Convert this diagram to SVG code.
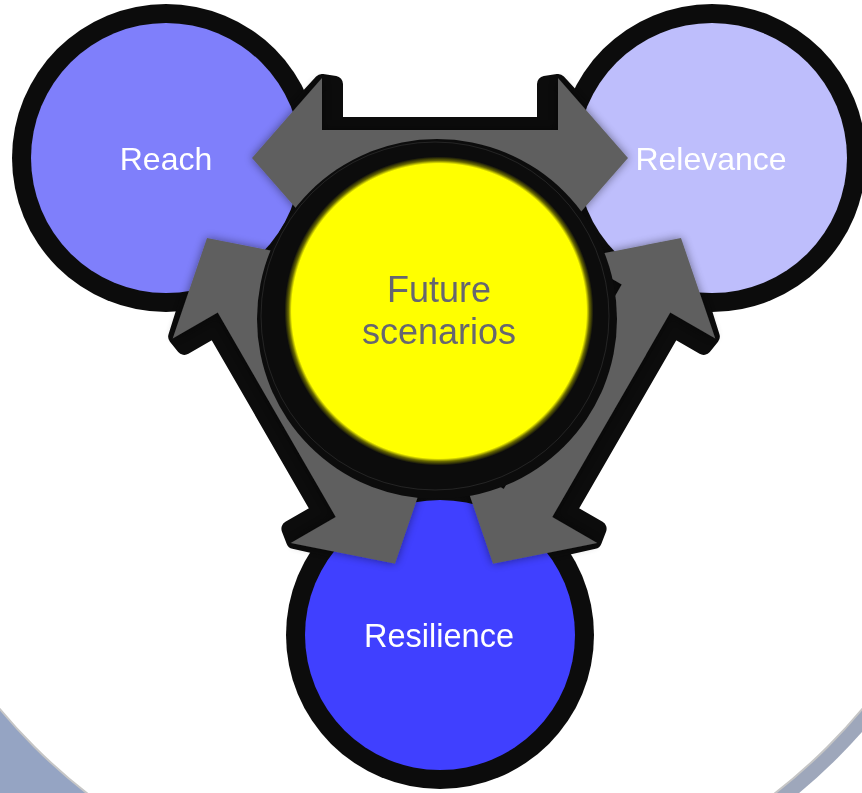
<svg xmlns="http://www.w3.org/2000/svg" width="862" height="793" viewBox="0 0 862 793">
  <defs>
    <style>
      .edge { fill: #0c0c0c; }
      .arrow-edge { fill: #0c0c0c; stroke: #0c0c0c; stroke-width: 16; stroke-linejoin: round; }
      .arrow { fill: #5f5f5f; }
      .label { font-family: "Liberation Sans", Arial, sans-serif; font-size: 32px; fill: #ffffff; text-anchor: middle; }
      .core-label { font-family: "Liberation Sans", Arial, sans-serif; font-size: 36px; fill: #666670; text-anchor: middle; }
    </style>
    <filter id="arrowShadow" x="-20%" y="-20%" width="140%" height="140%">
      <feGaussianBlur in="SourceAlpha" stdDeviation="5"/>
      <feComponentTransfer><feFuncA type="linear" slope="0.45"/></feComponentTransfer>
      <feMerge><feMergeNode/><feMergeNode in="SourceGraphic"/></feMerge>
    </filter>
    <radialGradient id="coreGlow" cx="439" cy="311" r="156" gradientUnits="userSpaceOnUse">
      <stop offset="0.945" stop-color="#ffff00"/>
      <stop offset="0.965" stop-color="#6a6a00"/>
      <stop offset="0.99" stop-color="#0c0c0c"/>
    </radialGradient>
    <clipPath id="cornerBR"><rect x="600" y="600" width="262" height="193"/></clipPath>
    <!-- double-headed block arrow, tip to tip 376 along +x -->
    <path id="arrowShape" d="M0,0 L70,-80 L70,-28 L306,-28 L306,-80 L376,0 L306,80 L306,28 L70,28 L70,80 Z"/>
  </defs>

  <!-- backdrop disc -->
  <g id="backdrop">
    <rect width="862" height="793" fill="#95a4c3"/>
    <rect x="600" y="600" width="262" height="193" fill="#ffffff"/>
    <circle cx="431" cy="350" r="576" fill="#9ea7bb" clip-path="url(#cornerBR)"/>
    <circle cx="431" cy="350" r="561" fill="#ffffff" stroke="#c6c6c6" stroke-width="2"/>
  </g>

  <!-- black outlines shared by circles and arrows -->
  <g id="outlines">
    <circle class="edge" cx="166" cy="158" r="154"/>
    <circle class="edge" cx="712" cy="158" r="154"/>
    <circle class="edge" cx="440" cy="635" r="154"/>
    <path class="arrow-edge" transform="translate(252,158)" d="M0,0 L70,-76 L83,-74 L83,-33 L293,-33 L293,-74 L306,-76 L376,0 L306,76 L293,74 L293,33 L83,33 L83,74 L70,76 Z"/>
    <path class="arrow-edge" transform="translate(207,238) rotate(60)" d="M0,0 L70,-76 L83,-74 L83,-39 L293,-39 L293,-74 L306,-76 L376,0 L306,76 L293,74 L293,39 L83,39 L83,74 L70,76 Z"/>
    <path class="arrow-edge" transform="translate(681,238) rotate(120)" d="M0,0 L70,-76 L83,-74 L83,-39 L293,-39 L293,-74 L306,-76 L376,0 L306,76 L293,74 L293,39 L83,39 L83,74 L70,76 Z"/>
  </g>

  <g id="reach">
    <circle cx="166" cy="158" r="135" fill="#7f7ffb"/>
  </g>
  <g id="relevance">
    <circle cx="712" cy="158" r="135" fill="#bebefc"/>
  </g>
  <g id="resilience">
    <circle cx="440" cy="635" r="135" fill="#4040ff"/>
  </g>

  <!-- connectors -->
  <g id="connectors" filter="url(#arrowShadow)">
    <use href="#arrowShape" class="arrow" transform="translate(252,158)"/>
    <use href="#arrowShape" class="arrow" transform="translate(207,238) rotate(60)"/>
    <use href="#arrowShape" class="arrow" transform="translate(681,238) rotate(120)"/>
  </g>

  <g id="future-scenarios">
    <circle cx="437" cy="319" r="180" fill="#0c0c0c"/>
    <circle cx="435" cy="316" r="174" fill="none" stroke="#5a5a5a" stroke-width="0.7" opacity="0.45"/>
    <circle cx="439" cy="311" r="156" fill="url(#coreGlow)"/>
    <text class="core-label" x="439" y="302">Future</text>
    <text class="core-label" x="439" y="344">scenarios</text>
  </g>

  <g id="labels">
    <text class="label" x="166" y="170">Reach</text>
    <text class="label" x="711" y="170">Relevance</text>
    <text class="label" x="439" y="647" style="font-size:32.5px">Resilience</text>
  </g>
</svg>
